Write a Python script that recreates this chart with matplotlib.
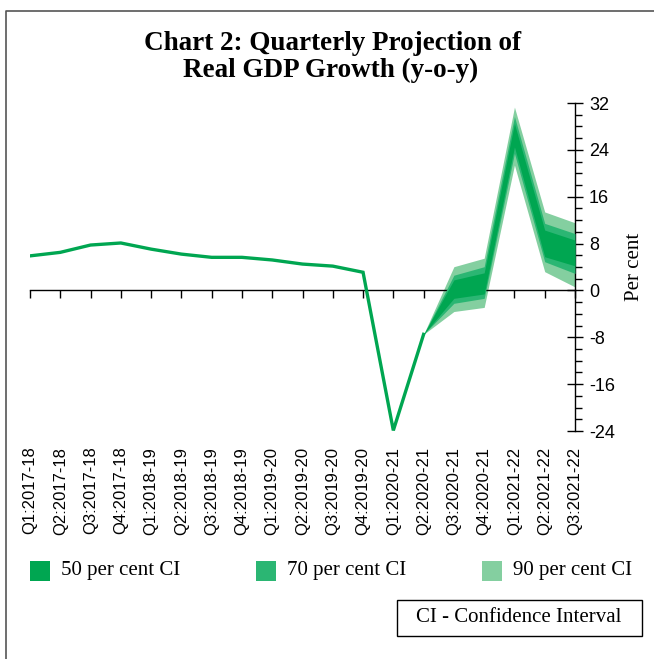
import matplotlib

matplotlib.use("Agg")
import matplotlib.pyplot as plt
from matplotlib.lines import Line2D
from matplotlib.patches import Rectangle
from matplotlib.ticker import MultipleLocator

plt.rcParams["axes.unicode_minus"] = False

quarters = [
    "Q1:2017-18", "Q2:2017-18", "Q3:2017-18", "Q4:2017-18",
    "Q1:2018-19", "Q2:2018-19", "Q3:2018-19", "Q4:2018-19",
    "Q1:2019-20", "Q2:2019-20", "Q3:2019-20", "Q4:2019-20",
    "Q1:2020-21", "Q2:2020-21", "Q3:2020-21", "Q4:2020-21",
    "Q1:2021-22", "Q2:2021-22", "Q3:2021-22",
]

# actual growth up to Q2:2020-21
actual = [5.9, 6.5, 7.75, 8.1, 7.05, 6.2, 5.65, 5.65, 5.2, 4.5, 4.15, 3.1, -23.9, -7.5]

# fan bands from Q2:2020-21 onward
fan_start = 13
ci90_hi = [-7.5, 4.05, 5.5, 31.3, 13.4, 11.55]
ci70_hi = [-7.5, 2.6, 4.05, 29.7, 11.45, 9.7]
ci50_hi = [-7.5, 1.8, 3.0, 28.5, 10.3, 8.6]
ci50_lo = [-7.5, -1.35, -0.6, 24.5, 5.75, 4.2]
ci70_lo = [-7.5, -2.2, -1.35, 23.4, 4.9, 2.9]
ci90_lo = [-7.5, -3.6, -2.9, 21.4, 3.2, 0.6]

legend_labels = ["50 per cent CI", "70 per cent CI", "90 per cent CI"]

C50 = "#00a651"
C70 = "#2bb673"
C90 = "#84cfa0"

W, H = 654, 659
fig = plt.figure(figsize=(W / 100, H / 100), dpi=100)
ax = fig.add_axes([30 / W, 1 - 431 / H, 545 / W, 328 / H])

fx = list(range(fan_start, fan_start + len(ci90_hi)))
ax.fill_between(fx, ci90_lo, ci90_hi, color=C90, lw=0, zorder=2)
ax.fill_between(fx, ci70_lo, ci70_hi, color=C70, lw=0, zorder=3)
ax.fill_between(fx, ci50_lo, ci50_hi, color=C50, lw=0, zorder=4)
ax.plot(range(len(actual)), actual, color=C50, lw=2.4, zorder=5, solid_joinstyle="miter")

ax.set_xlim(0, len(quarters) - 1)
ax.set_ylim(-24, 32)

# axes look: right y-axis, x baseline at zero
for side in ["left", "top"]:
    ax.spines[side].set_visible(False)
ax.spines["bottom"].set_position(("data", 0))
ax.spines["bottom"].set_linewidth(1.0)
ax.spines["right"].set_linewidth(1.0)

ax.yaxis.tick_right()
ax.yaxis.set_label_position("right")
ax.yaxis.set_major_locator(MultipleLocator(8))
ax.yaxis.set_minor_locator(MultipleLocator(2))
ax.tick_params(axis="y", which="major", direction="inout", length=12, width=1.0,
               labelsize=13, pad=4)
ax.tick_params(axis="y", which="minor", direction="out", length=5, width=1.0)
for lab in ax.get_yticklabels():
    lab.set_fontfamily("Liberation Sans")
ax.set_ylabel("Per cent", family="Liberation Serif", fontsize=15, labelpad=7)

ax.set_xticks(range(len(quarters)))
ax.tick_params(axis="x", direction="out", length=6, width=1.0, labelbottom=False)
for i, q in enumerate(quarters):
    ax.text(i, -0.048, q, transform=ax.get_xaxis_transform(), rotation=90,
            ha="center", va="top", fontsize=12, family="Liberation Sans")

# title
fig.text(333 / W, 1 - 50 / H, "Chart 2: Quarterly Projection of", ha="center",
         va="baseline", family="Liberation Serif", weight="bold", fontsize=19.5)
fig.text(331 / W, 1 - 77 / H, "Real GDP Growth (y-o-y)", ha="center",
         va="baseline", family="Liberation Serif", weight="bold", fontsize=19.5)

# frame on left and top
fig.add_artist(Line2D([6 / W, 6 / W, 1], [0, 1 - 11 / H, 1 - 11 / H],
                      color="#555555", lw=1.2))

# legend
for x0, col, lab in zip([30, 256, 482], [C50, C70, C90], legend_labels):
    fig.add_artist(Rectangle((x0 / W, 1 - 581 / H), 20 / W, 20 / H,
                             transform=fig.transFigure, color=col, lw=0))
    fig.text((x0 + 31) / W, 1 - 571 / H, lab, ha="left", va="center",
             family="Liberation Serif", fontsize=15)

fig.add_artist(Rectangle((397 / W, 1 - 636 / H), 245 / W, 36 / H,
                         transform=fig.transFigure, fill=False, ec="black", lw=1.0))
fig.text(519 / W, 1 - 618 / H, "CI - Confidence Interval", ha="center", va="center",
         family="Liberation Serif", fontsize=15)

fig.savefig("out.png", dpi=100)
